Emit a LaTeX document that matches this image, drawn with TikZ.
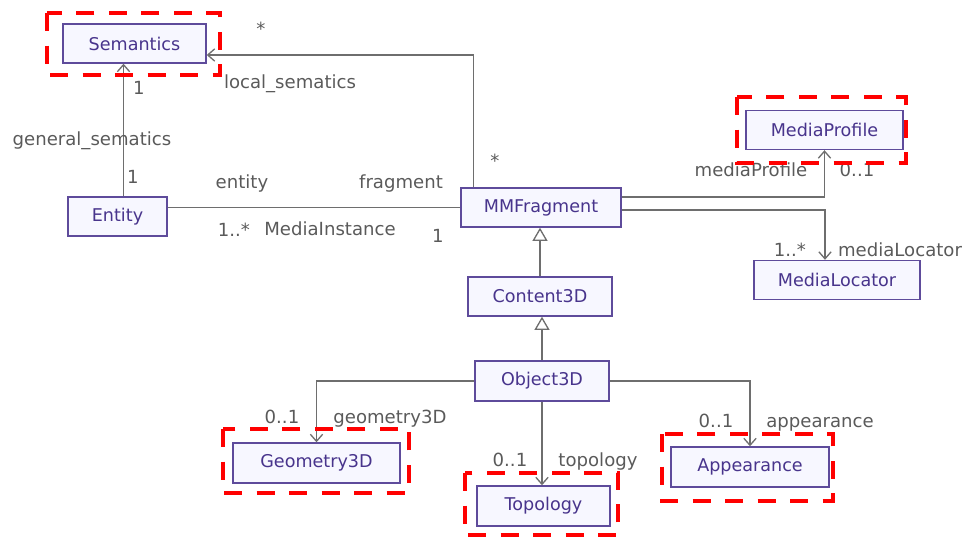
\documentclass[tikz,border=0pt]{standalone}
\usepackage{fontspec}
\setmainfont{DejaVu Sans}
\usetikzlibrary{arrows.meta,calc}
\definecolor{umlpurple}{RGB}{94,75,155}
\definecolor{umltext}{RGB}{72,52,140}
\definecolor{umlfill}{RGB}{247,247,255}
\definecolor{umlline}{RGB}{110,110,110}
\definecolor{umllabel}{RGB}{90,90,90}
\definecolor{markred}{RGB}{255,0,0}

\begin{document}
\begin{tikzpicture}[
  x=0.02cm, y=-0.02cm,
  every node/.style={font=\fontsize{10}{12}\selectfont},
  cls/.style={draw=umlpurple, fill=umlfill, text=umltext, line width=0.8pt, minimum height=0.78cm, inner sep=0pt},
  lbl/.style={text=umllabel, font=\fontsize{10.3}{12}\selectfont, inner sep=0pt, text height=1.5ex, text depth=.25ex},
  link/.style={draw=umlline, line width=0.75pt},
  assoc/.style={link, -{Straight Barb[length=4pt,width=7pt]}},
  inherit/.style={link, -{Triangle[open,length=7.5pt,width=8.5pt,fill=white]}},
  markbox/.style={draw=markred, line width=2.8pt, dash pattern=on 10.5pt off 8pt}
]
  \useasboundingbox (0,0) rectangle (975,538);

  % classes
  \node[cls, minimum width=2.86cm] (sem) at (134.5,43.5) {Semantics};
  \node[cls, minimum width=1.98cm] (ent) at (117.5,216.5) {Entity};
  \node[cls, minimum width=3.2cm] (frag) at (541,207.5) {MMFragment};
  \node[cls, minimum width=3.14cm] (prof) at (824.5,130) {MediaProfile};
  \node[cls, minimum width=3.32cm] (loc) at (837,280) {MediaLocator};
  \node[cls, minimum width=2.88cm] (c3d) at (540,296.5) {Content3D};
  \node[cls, minimum width=2.68cm, minimum height=0.8cm] (o3d) at (542,381) {Object3D};
  \node[cls, minimum width=3.34cm, minimum height=0.8cm] (geo) at (316.5,463) {Geometry3D};
  \node[cls, minimum width=2.66cm, minimum height=0.8cm] (topo) at (543.5,506) {Topology};
  \node[cls, minimum width=3.16cm, minimum height=0.8cm] (app) at (750,467) {Appearance};

  % associations
  \draw[assoc] ($(ent.north)+(6,0)$) -- ($(ent.north |- sem.south)+(6,0)$);
  \draw[assoc] ($(frag.north west)+(13,0)$) |- ($(sem.east)+(0,11.5)$);
  \draw[link] (ent.east |- frag.west) -- (frag.west);
  \draw[assoc] ($(frag.east)+(0,-10.5)$) -| (prof.south);
  \draw[assoc] ($(frag.east)+(0,2.5)$) -| ($(loc.north)+(-12,0)$);
  \draw[inherit] (c3d.north) -- (c3d.north |- frag.south);
  \draw[inherit] (o3d.north) -- (o3d.north |- c3d.south);
  \draw[assoc] (o3d.west) -| (geo.north);
  \draw[assoc] (o3d.south) -- (o3d.south |- topo.north);
  \draw[assoc] (o3d.east) -| (app.north);

  % role names and multiplicities
  \node[lbl] (m1) at (261,29) {*};
  \node[lbl] (r1) at (290,82) {local\_sematics};
  \node[lbl] (m2) at (139,88) {1};
  \node[lbl] (r2) at (92,139) {general\_sematics};
  \node[lbl] (m3) at (133,177) {1};
  \node[lbl] (r3) at (242,182) {entity};
  \node[lbl] (r4) at (401,182) {fragment};
  \node[lbl] (m4) at (234,230) {1..*};
  \node[lbl] (r5) at (330,229) {MediaInstance};
  \node[lbl] (m5) at (438,236) {1};
  \node[lbl] (m6) at (495,161) {*};
  \node[lbl] (r6) at (751,170) {mediaProfile};
  \node[lbl] (m7) at (857,170) {0..1};
  \node[lbl] (m8) at (790,250) {1..*};
  \node[lbl] (r7) at (900,250) {mediaLocator};
  \node[lbl] (m9) at (282,417) {0..1};
  \node[lbl] (r8) at (390,417) {geometry3D};
  \node[lbl] (m10) at (510,460) {0..1};
  \node[lbl] (r9) at (598,460) {topology};
  \node[lbl] (m11) at (716,421) {0..1};
  \node[lbl] (r10) at (820,421) {appearance};

  % red highlight frames
  \draw[markbox] (47,13) rectangle (220,75);
  \draw[markbox] (737,97) rectangle (906,163);
  \draw[markbox] (223,429) rectangle (409,493);
  \draw[markbox] (465,473) rectangle (618,535);
  \draw[markbox] (662,434) rectangle (833,501);
\end{tikzpicture}
\end{document}
